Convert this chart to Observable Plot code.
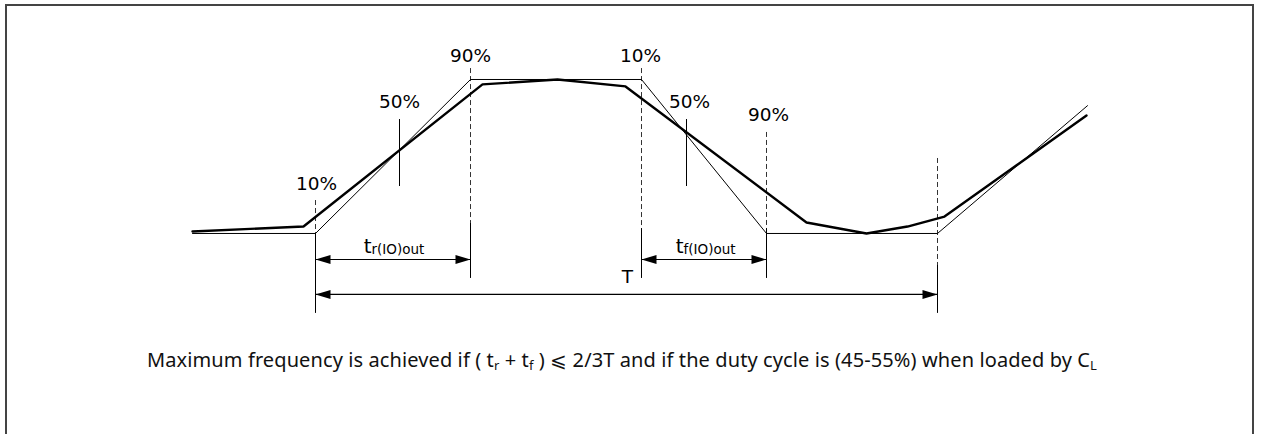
<!DOCTYPE html>
<html>
<head>
<meta charset="utf-8">
<script src="https://cdn.jsdelivr.net/npm/d3@7"></script>
<script src="https://cdn.jsdelivr.net/npm/@observablehq/plot@0.6"></script>
<style>
  html, body { margin: 0; padding: 0; background: #fff; }
  #wrap { position: relative; width: 1262px; height: 434px; overflow: hidden; }
  #frame { position: absolute; left: 5px; top: 4px; width: 1249px; height: 460px;
           border: 2px solid #444; border-bottom: none; box-sizing: border-box; }
  #chart { position: absolute; left: 0; top: 0; }
  #caption { position: absolute; left: 0; top: 348px; width: 1244px; text-align: center;
             font-family: "Noto Sans", sans-serif; font-size: 20px; line-height: 24px; color: #111; white-space: nowrap; }
  #caption sub { font-size: 13px; vertical-align: -3px; line-height: 0; }
</style>
</head>
<body>
<div id="wrap">
  <div id="chart"></div>
  <div id="caption"><span id="captext"></span></div>
  <div id="frame"></div>
</div>
<script>
// Ideal (thin) waveform: time units vs. level in % of swing
const idealTime  = [192, 315, 470, 641, 766, 937, 1087];
const idealLevel = [0, 0, 100, 100, 0, 0, 83];

// Actual (thick) waveform
const actualTime  = [192, 303, 482, 557, 625, 806, 866, 907, 944, 1086];
const actualLevel = [1.3, 4.5, 96.8, 100, 95.5, 7.1, 0, 4.5, 11.0, 76.6];

// Dashed guide lines and their solid extension lines
const guideTime   = [315, 470, 641, 766, 937];
const guideTop    = [21.4, 107.1, 107.1, 65.6, 48.7];
const guideBottom = [0, 6.5, 3.2, 3.2, -20.8];
const extBottom   = [-51.9, -29.2, -29.2, -29.2, -51.9];

// 50% markers
const midTime   = [399, 686];
const midTop    = [74, 74];
const midBottom = [30.5, 30.5];

// Dimension arrows
const arrowStart = [315, 641, 315];
const arrowEnd   = [470, 766, 937];
const arrowLevel = [-16.9, -16.9, -39.6];

// Percent labels
const pctText  = ["10%", "90%", "10%", "50%", "50%", "90%"];
const pctTime  = [316, 470, 640, 399, 689, 768];
const pctLevel = [32.1, 115.2, 115.2, 85.3, 85.3, 77.2];

// Timing labels (main letter + subscript)
const timingMain  = ["t", "t"];
const timingSub   = ["r(IO)out", "f(IO)out"];
const timingTime  = [371, 683];
const timingLevel = -8.8;
const timingSubLevel = -10.6;
const periodLabel = ["T"];
const periodTime  = [627];
const periodLevel = [-28.3];

const captionHTML = "Maximum frequency is achieved if ( t<sub>r</sub> + t<sub>f</sub> ) \u2A7D 2/3T and if the duty cycle is (45-55%) when loaded by C<sub>L</sub>";
const captionWidth = 950;

const idealData  = idealTime.map((t, i) => ({t, v: idealLevel[i]}));
const actualData = actualTime.map((t, i) => ({t, v: actualLevel[i]}));

const heads = [];
arrowStart.forEach((s, i) => {
  heads.push({t: s, v: arrowLevel[i], r: 180});
  heads.push({t: arrowEnd[i], v: arrowLevel[i], r: 0});
});

const arrowHead = {
  draw(ctx) {
    ctx.moveTo(0, 0);
    ctx.lineTo(-15, -4.5);
    ctx.lineTo(-15, 4.5);
    ctx.closePath();
  }
};

const labelFont = 18.5;

const chart = Plot.plot({
  width: 1262,
  height: 340,
  margin: 0,
  x: {domain: [0, 1262], axis: null},
  y: {domain: [-69.5, 151.3], axis: null},
  style: {background: "transparent", fontFamily: "DejaVu Sans, sans-serif", color: "#000"},
  marks: [
    Plot.ruleX(guideTime, {x: guideTime, y1: guideTop, y2: guideBottom, stroke: "#333", strokeWidth: 1, strokeDasharray: "5,3"}),
    Plot.ruleX(guideTime, {x: guideTime, y1: guideBottom, y2: extBottom, stroke: "#000", strokeWidth: 1}),
    Plot.ruleX(midTime, {x: midTime, y1: midTop, y2: midBottom, stroke: "#000", strokeWidth: 1}),
    Plot.line(idealData, {x: "t", y: "v", stroke: "#000", strokeWidth: 1}),
    Plot.line(actualData, {x: "t", y: "v", stroke: "#000", strokeWidth: 2.4, strokeLinejoin: "miter"}),
    Plot.link(arrowStart, {x1: arrowStart, x2: arrowEnd, y1: arrowLevel, y2: arrowLevel, stroke: "#000", strokeWidth: 1.2}),
    Plot.dot(heads, {x: "t", y: "v", rotate: "r", symbol: arrowHead, fill: "#000", stroke: "none"}),
    Plot.text(pctText, {x: pctTime, y: pctLevel, text: d => d, fontSize: labelFont, fill: "#000"}),
    Plot.text(timingMain, {x: timingTime, y: timingLevel, text: d => d, fontSize: 20, fill: "#000", textAnchor: "end"}),
    Plot.text(timingSub, {x: timingTime, y: timingSubLevel, text: d => d, fontSize: 13.5, fill: "#000", textAnchor: "start"}),
    Plot.text(periodLabel, {x: periodTime, y: periodLevel, text: d => d, fontSize: labelFont, fill: "#000"})
  ]
});

document.getElementById("chart").appendChild(chart);
const cap = document.getElementById("captext");
cap.innerHTML = captionHTML;
const w = cap.getBoundingClientRect().width;
const nChars = cap.textContent.length;
cap.style.letterSpacing = ((captionWidth - w) / nChars) + "px";
</script>
</body>
</html>
